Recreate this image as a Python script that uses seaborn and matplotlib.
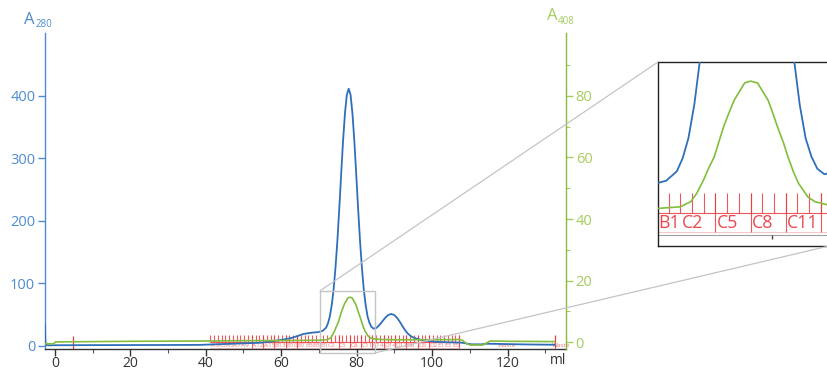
import numpy as np
import matplotlib
matplotlib.use("Agg")
import matplotlib.pyplot as plt
import seaborn as sns
from matplotlib.patches import Rectangle, ConnectionPatch

# A280 trace (ml, mAU)
a280_ml = [-2.6, -2.5, -2.3, -1.5, 0, 10, 20, 30, 38.5, 45, 50, 54.4, 58, 62.3, 64, 65.9, 68, 69.8,
           71.0, 71.9, 72.4, 72.9, 73.4, 73.9, 74.4, 74.9, 75.4, 75.9, 76.4, 76.9, 77.4, 77.9, 78.4,
           78.9, 79.4, 79.9, 80.4, 80.9, 81.4, 81.9, 82.4, 82.9, 83.4, 83.9, 84.5, 85.2, 86.0, 86.8,
           87.6, 88.3, 89.1, 89.9, 90.7, 91.5, 92.2, 92.8, 93.5, 94.5, 95.5, 96.8, 98.1, 101.2, 104,
           107.4, 108.5, 109.5, 110.5, 113, 114.5, 117, 120, 126, 132.6]
a280_val = [34, 6, 1.2, 0.8, 1.0, 1.2, 1.3, 1.4, 1.6, 3.0, 4.0, 5.0, 7.5, 12, 15, 19, 21, 22,
            24, 29, 36, 47, 65, 90, 125, 168, 219, 274, 327, 371, 401, 411, 401,
            371, 327, 274, 219, 168, 125, 90, 65, 47, 37, 30.5, 27.5, 28.5, 33, 39,
            45, 49, 51, 49.5, 45, 38, 31, 25.6, 20, 15, 12.3, 10, 8.5, 6.4, 5.8,
            5.3, 4.5, 3.2, 2.5, 2.4, 3.4, 3.2, 2.8, 2.2, 1.8]

# A408 trace (ml, mAU)
a408_ml = [-2.6, -0.3, 0.2, 10, 20, 30, 40, 50, 60, 66, 70.2, 72.2, 73.1, 73.6, 74.2, 74.6, 75.1,
           75.9, 76.35, 76.8, 77.7, 78.2, 78.8, 79.7, 80.1, 80.5, 81.0, 81.4, 81.85, 82.3, 83.1,
           83.7, 84.6, 86.2, 90, 95, 100, 105, 107.3, 108, 109, 110, 113.5, 114.5, 115.4, 120,
           126, 132.6]
a408_val = [-0.5, -0.5, 0.1, 0.2, 0.3, 0.35, 0.4, 0.5, 0.55, 0.6, 0.65, 0.83, 1.4, 2.3, 3.8, 5.0, 6.3,
            9.6, 11.1, 12.5, 14.4, 14.6, 14.4, 12.5, 11.1, 9.6, 7.9, 6.3, 4.7, 3.4, 1.9,
            1.4, 1.1, 0.9, 0.8, 0.8, 0.8, 0.85, 0.9, 0.6, -0.3, -0.9, -0.9, -0.2, 0.4, 0.3,
            0.25, 0.2]

# fractions
frac_rows = ["A", "B", "C", "D", "E"]
frac_count = 66
frac_first_ml = 41.2
frac_width_ml = 1.0
frac_labels = ["A1", "A3", "A5", "A7", "A9", "A12", "A15", "B13", "B10", "B7", "B5", "B3", "B1",
               "C2", "C5", "C8", "C11", "C14", "D14", "D11", "D8", "D5", "D2", "E1", "E3", "E5"]
frac_separators = ["A12", "A15", "B13", "B10", "B7", "C5", "C8", "C11", "C14", "D14", "D11",
                   "D8", "D5", "D2"]
waste_ml = [117.5, 131.7]
waste_mark_ml = 132.6
inject_ml = 4.9

x_ticks = [0, 20, 40, 60, 80, 100, 120]
a280_ticks = [0, 100, 200, 300, 400]
a408_ticks = [0, 20, 40, 60, 80]

BLUE = "#2f6fba"
BLUE_TXT = "#4f8ccd"
GREEN = "#82bd3c"
GREEN_TXT = "#a6cc5e"
RED = "#ec3b3f"
PINK = "#f07878"
GREY = "#c4c4c4"

sns.set_theme(style="ticks")
plt.rcParams["font.family"] = ["Open Sans", "DejaVu Sans"]

W, H = 827, 372
fig = plt.figure(figsize=(W / 100, H / 100), dpi=100)


def box(x0, y0, x1, y1):
    return [x0 / W, 1 - y1 / H, (x1 - x0) / W, (y1 - y0) / H]


ax = fig.add_axes(box(45, 33, 566, 349))
ax2 = ax.twinx()
ylim1 = (-5, 500)
ylim2 = (-2.2, 100.4)
xlim = (-2.6, 135.5)

# fraction names go back and forth along the rack
frac_names = []
for i, row in enumerate(frac_rows):
    nums = range(1, 16) if i % 2 == 0 else range(15, 0, -1)
    frac_names += [f"{row}{n}" for n in nums]
frac_names = frac_names[:frac_count]
frac_edges = frac_first_ml + frac_width_ml * np.arange(frac_count + 1)
frac_pos = dict(zip(frac_names, frac_edges[:-1]))


def draw_fractions(axis, size, color, xr):
    axis.vlines(frac_edges, 6.7, 17.4, colors=RED, lw=0.8, alpha=0.85, zorder=1)
    axis.hlines(6.7, frac_edges[0], frac_edges[-1], colors=RED, lw=0.8, alpha=0.85, zorder=1)
    axis.hlines(-3.8, frac_edges[0], frac_edges[-1], colors=PINK, lw=0.6, alpha=0.5, zorder=1)
    seps = [frac_pos[n] for n in frac_separators] + [frac_edges[-1]]
    axis.vlines(seps, -3.8, 17.4, colors=RED, lw=0.8, alpha=0.85, zorder=1)
    for name in frac_labels:
        x = frac_pos[name]
        if xr[0] - 1.2 <= x <= xr[1] - 1.5:
            axis.text(x + 0.12, 1.0, name, fontsize=size, color=color,
                      ha="left", va="center", clip_on=True, zorder=1)


draw_fractions(ax, 4.6, PINK, xlim)
ax.vlines(inject_ml, -5, 16, colors=RED, lw=0.9)
ax.vlines(waste_mark_ml, -3.8, 17.4, colors=RED, lw=0.9)
for w in waste_ml:
    ax.text(w, 1.0, "Waste", fontsize=4.6, color=PINK, ha="left", va="center", clip_on=False)

sns.lineplot(x=a280_ml, y=a280_val, ax=ax, color=BLUE, lw=1.3, estimator=None, sort=False, zorder=3)
sns.lineplot(x=a408_ml, y=a408_val, ax=ax2, color=GREEN, lw=1.2, estimator=None, sort=False, zorder=3)

ax.set_xlim(*xlim)
ax.set_ylim(*ylim1)
ax2.set_ylim(*ylim2)
ax.set_xlabel("")
ax.set_ylabel("")
ax2.set_ylabel("")

ax.set_xticks(x_ticks)
ax.set_xticks([10, 30, 50, 70, 90, 110, 130], minor=True)
ax.set_yticks(a280_ticks)
ax2.set_yticks(a408_ticks)
ax2.set_yticks([10, 30, 50, 70, 90], minor=True)

for s in ["top", "right"]:
    ax.spines[s].set_visible(False)
for s in ["top", "left", "bottom"]:
    ax2.spines[s].set_visible(False)
ax.spines["left"].set_color(BLUE_TXT)
ax.spines["bottom"].set_color("#333333")
ax2.spines["right"].set_color(GREEN)
for sp in [ax.spines["left"], ax.spines["bottom"], ax2.spines["right"]]:
    sp.set_linewidth(1.0)

ax.tick_params(axis="y", colors=BLUE_TXT, length=5, width=1, pad=2, labelsize=10.5)
ax.tick_params(axis="x", colors="#333333", length=5, width=1, pad=0, labelsize=10)
ax.tick_params(axis="x", which="minor", colors="#555555", length=3, width=0.8)
ax2.tick_params(axis="y", colors=GREEN_TXT, length=5, width=1, pad=2, labelsize=10.5)
ax2.tick_params(axis="y", which="minor", colors=GREEN_TXT, length=3, width=0.8)

fig.text(558 / W, 1 - 361 / H, "ml", ha="center", va="center", fontsize=10, color="#333333")
fig.text(24 / W, 1 - 24 / H, "A", ha="left", va="baseline", fontsize=12, color=BLUE_TXT)
fig.text(35.5 / W, 1 - 27 / H, "280", ha="left", va="baseline", fontsize=7, color=BLUE_TXT)
fig.text(547 / W, 1 - 20 / H, "A", ha="left", va="baseline", fontsize=12, color=GREEN_TXT)
fig.text(558 / W, 1 - 24 / H, "408", ha="left", va="baseline", fontsize=7, color=GREEN_TXT)

# zoom box and inset
zx = (70.3, 84.9)
zy = (-11.2, 88)
ax.add_patch(Rectangle((zx[0], zy[0]), zx[1] - zx[0], zy[1] - zy[0], fill=False,
                       ec=GREY, lw=1.0, clip_on=False, zorder=6))

ax_in = fig.add_axes(box(658, 62, 829, 246))
a408_in = ylim1[0] + (np.array(a408_val) - ylim2[0]) / (ylim2[1] - ylim2[0]) * (ylim1[1] - ylim1[0])
draw_fractions(ax_in, 12.8, "#e8474f", zx)
ax_in.axhline(ylim1[0], color="#a0a0a0", lw=0.8, zorder=1)
ax_in.vlines([80], ylim1[0] - 2.5, ylim1[0], colors="#444444", lw=1)
sns.lineplot(x=a280_ml, y=a280_val, ax=ax_in, color=BLUE, lw=1.3, estimator=None, sort=False, zorder=3)
sns.lineplot(x=a408_ml, y=a408_in, ax=ax_in, color=GREEN, lw=1.2, estimator=None, sort=False, zorder=3)
ax_in.set_xlim(*zx)
ax_in.set_ylim(*zy)
ax_in.set_xticks([])
ax_in.set_yticks([])
ax_in.set_xlabel("")
ax_in.set_ylabel("")
for sp in ax_in.spines.values():
    sp.set_visible(True)
    sp.set_color("#222222")
    sp.set_linewidth(1.0)

for xyA, xyB in [((zx[0], zy[1]), (0, 1)), ((zx[1], zy[0]), (1, 0))]:
    con = ConnectionPatch(xyA=xyA, coordsA=ax.transData, xyB=xyB, coordsB=ax_in.transAxes,
                          color=GREY, lw=0.9)
    fig.add_artist(con)

fig.savefig("out.png", dpi=100)
